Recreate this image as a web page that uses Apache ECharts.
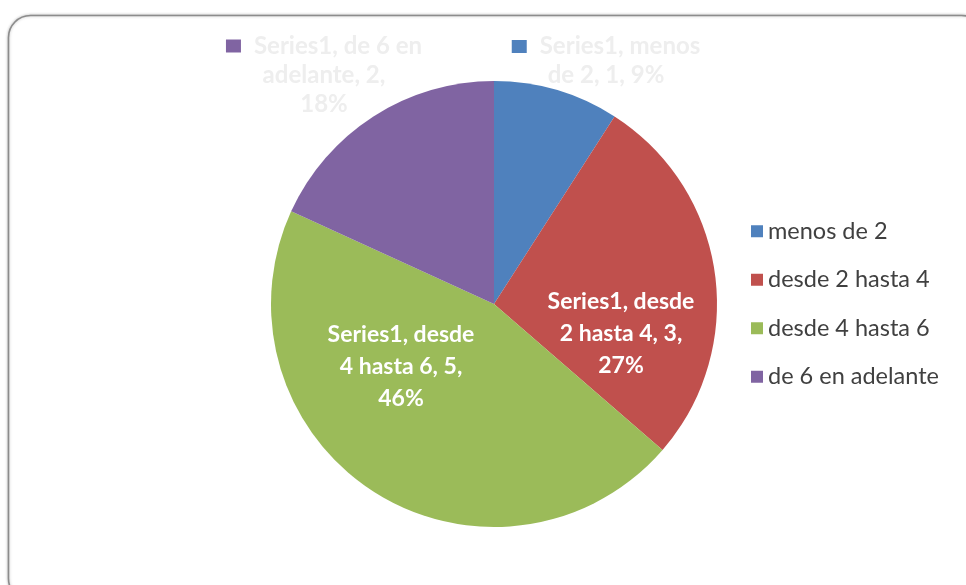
<!DOCTYPE html>
<html>
<head>
<meta charset="utf-8">
<script src="https://cdn.jsdelivr.net/npm/echarts@6/dist/echarts.min.js"></script>
<style>
  html, body { margin: 0; padding: 0; background: #ffffff; }
  #chart { width: 966px; height: 585px; }
</style>
</head>
<body>
<div id="chart"></div>
<script>
// Data
const seriesName = 'Series1';
const categories = ['menos de 2', 'desde 2 hasta 4', 'desde 4 hasta 6', 'de 6 en adelante'];
const values = [1, 3, 5, 2];

// Presentation settings
const colors = ['#4f81bd', '#c0504d', '#9bbb59', '#8064a2'];
// word indexes where each data label wraps onto a new line
const labelBreaks = [[2], [2, 6], [2, 6], [4, 6]];
// labels drawn outside the pie in pale text with a colour key
const outsideLabel = [true, false, false, true];
const labelAnchors = [[606, 61], [621, 334], [401, 367], [324, 75]];

const FONT = 'Lato, "Open Sans", sans-serif';

function labelLines(params) {
  const words = (params.seriesName + ', ' + params.name + ', ' + params.value + ', ' + params.percent + '%').split(' ');
  const breaks = labelBreaks[params.dataIndex].concat(words.length);
  const lines = [];
  let s = 0;
  breaks.forEach(function (b) { lines.push(words.slice(s, b).join(' ')); s = b; });
  return lines;
}

const data = categories.map(function (name, i) {
  const item = { name: name, value: values[i], itemStyle: { color: colors[i] } };
  if (outsideLabel[i]) {
    item.label = {
      color: '#eeeeee',
      fontSize: 24,
      lineHeight: 29,
      fontWeight: 'bold',
      formatter: function (p) {
        const lines = labelLines(p);
        return '{k' + p.dataIndex + '|}{gap|}' + lines.map(function (l) { return '{t|' + l + '}'; }).join('\n');
      },
      rich: {
        k0: { width: 15, height: 13, backgroundColor: colors[0] },
        k3: { width: 15, height: 13, backgroundColor: colors[3] },
        gap: { width: 13 },
        t: { color: '#eeeeee', fontSize: 24, lineHeight: 29, fontWeight: 'bold', fontFamily: FONT }
      }
    };
  }
  return item;
});

const chart = echarts.init(document.getElementById('chart'), null, { renderer: 'canvas' });

chart.setOption({
  backgroundColor: '#ffffff',
  animation: false,
  graphic: [{
    type: 'rect',
    z: -10,
    shape: { x: 8.5, y: 15.5, width: 975, height: 585, r: 22 },
    style: {
      fill: '#ffffff',
      stroke: '#8c8c8c',
      lineWidth: 1.6,
      shadowBlur: 3,
      shadowColor: 'rgba(0,0,0,0.25)'
    }
  }],
  legend: {
    orient: 'vertical',
    left: 746,
    top: 214,
    icon: 'rect',
    itemWidth: 12,
    itemHeight: 12,
    itemGap: 24,
    selectedMode: false,
    data: categories,
    textStyle: {
      color: '#404040',
      fontSize: 23.5,
      lineHeight: 24.5,
      fontFamily: FONT
    }
  },
  series: [{
    name: seriesName,
    type: 'pie',
    center: [494, 304],
    radius: 223,
    startAngle: 90,
    clockwise: true,
    percentPrecision: 0,
    avoidLabelOverlap: false,
    label: {
      show: true,
      position: 'inside',
      color: '#ffffff',
      fontSize: 23,
      lineHeight: 32,
      fontWeight: 'bold',
      fontFamily: FONT,
      align: 'center',
      formatter: function (p) { return labelLines(p).join('\n'); }
    },
    labelLine: { show: false },
    labelLayout: function (params) {
      const a = labelAnchors[params.dataIndex];
      return { x: a[0], y: a[1], align: 'center', verticalAlign: 'middle' };
    },
    itemStyle: { borderWidth: 0 },
    emphasis: { disabled: true },
    data: data
  }]
});
</script>
</body>
</html>
